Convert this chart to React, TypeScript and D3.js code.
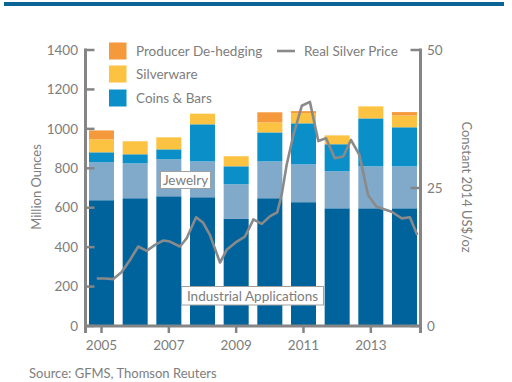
import React from "react";
import * as d3 from "d3";

const years = [2005, 2006, 2007, 2008, 2009, 2010, 2011, 2012, 2013, 2014];
const industrial = [638, 648, 658, 653, 543, 648, 628, 597, 597, 597];
const jewelry = [192, 177, 188, 182, 176, 187, 192, 188, 213, 213];
const coinsBars = [51, 46, 50, 188, 91, 147, 208, 137, 243, 198];
const silverware = [66, 66, 61, 54, 51, 51, 52, 45, 61, 60];
const dehedging = [45, 0, 0, 0, 0, 51, 10, 0, 0, 17];

const priceTime = [
  2004.86, 2005.1, 2005.35, 2005.6, 2005.85, 2006.09, 2006.34, 2006.59, 2006.84, 2007.03,
  2007.33, 2007.53, 2007.81, 2008.02, 2008.22, 2008.52, 2008.72, 2009.02, 2009.26, 2009.41,
  2009.51, 2009.76, 2010.01, 2010.22, 2010.35, 2010.5, 2010.7, 2010.95, 2011.19, 2011.44,
  2011.67, 2011.93, 2012.18, 2012.41, 2012.66, 2012.92, 2013.17, 2013.62, 2013.92, 2014.16,
  2014.38,
];
const priceValue = [
  8.6, 8.6, 8.5, 9.8, 12.0, 14.4, 13.6, 14.7, 15.5, 15.3,
  14.4, 15.9, 19.7, 18.7, 16.5, 11.5, 13.8, 15.3, 16.2, 18.0,
  19.3, 18.5, 19.9, 20.6, 23.7, 29.2, 34.6, 39.9, 40.6, 33.5,
  34.0, 30.4, 30.7, 33.7, 31.0, 23.7, 21.6, 20.7, 19.5, 19.7,
  16.5,
];

const leftTicks = [0, 200, 400, 600, 800, 1000, 1200, 1400];
const rightTicks = [0, 25, 50];
const yearTicks = [2005, 2007, 2009, 2011, 2013];

const seriesKeys = ["industrial", "jewelry", "coins", "silverware", "dehedging"];
const seriesColors: Record<string, string> = {
  industrial: "#00639b",
  jewelry: "#80a9ca",
  coins: "#0a8fc8",
  silverware: "#fcc242",
  dehedging: "#f5993d",
};

const FONT = "Lato, 'Open Sans', sans-serif";
const GRAY = "#7d7d7d";
const AXIS = "#858585";

export default function App() {
  const rows = years.map((y, i) => ({
    year: y,
    industrial: industrial[i],
    jewelry: jewelry[i],
    coins: coinsBars[i],
    silverware: silverware[i],
    dehedging: dehedging[i],
  }));
  const stacked = d3.stack<any>().keys(seriesKeys)(rows);

  const x = d3
    .scaleBand<number>()
    .domain(years)
    .range([89, 417])
    .paddingInner(0.257)
    .paddingOuter(0);
  const bw = x.bandwidth();
  const xc = (y: number) => (x(y) as number) + bw / 2;
  const xt = d3.scaleLinear().domain([2005, 2014]).range([xc(2005), xc(2014)]);
  const yL = d3.scaleLinear().domain([0, 1400]).range([326, 50]);
  const yR = d3.scaleLinear().domain([0, 50]).range([326, 50]);

  const line = d3
    .line<number>()
    .x((_, i) => xt(priceTime[i]))
    .y((d) => yR(d));

  const axL = 85.5;
  const axR = 420.5;

  return (
    <svg
      width={512}
      height={382}
      style={{ position: "absolute", left: 0, top: 0, background: "#fff" }}
      fontFamily={FONT}
    >
      <rect x={4} y={2} width={500} height={4} fill="#0b6496" />

      {stacked.map((s) => (
        <g key={s.key} fill={seriesColors[s.key]}>
          {s.map((d, i) =>
            d[1] - d[0] > 0 ? (
              <rect
                key={i}
                x={x(years[i])}
                width={bw}
                y={yL(d[1])}
                height={yL(d[0]) - yL(d[1])}
              />
            ) : null
          )}
        </g>
      ))}

      <path d={line(priceValue) || ""} fill="none" stroke="#8a8a8a" strokeWidth={2.6} strokeLinejoin="round" />

      {/* left axis */}
      <line x1={axL} x2={axL} y1={yL(1400) - 1.5} y2={333} stroke={AXIS} strokeWidth={3} />
      {leftTicks.map((t) => (
        <g key={t}>
          <line x1={axL} x2={axL + 9} y1={yL(t)} y2={yL(t)} stroke={AXIS} strokeWidth={2.5} />
          <text x={78} y={yL(t)} dy="0.35em" textAnchor="end" fontSize={13.5} fill={GRAY}>
            {t}
          </text>
        </g>
      ))}
      {/* bottom axis */}
      <line x1={axL} x2={axR} y1={326} y2={326} stroke={AXIS} strokeWidth={3} />
      {yearTicks.map((t) => (
        <g key={t}>
          <line x1={xc(t)} x2={xc(t)} y1={326} y2={333} stroke={AXIS} strokeWidth={2.5} />
          <text x={xc(t)} y={345} dy="0.35em" textAnchor="middle" fontSize={13.5} fill={GRAY}>
            {t}
          </text>
        </g>
      ))}
      {/* right axis */}
      <line x1={axR} x2={axR} y1={yR(50) - 1.5} y2={333} stroke={AXIS} strokeWidth={3} />
      {rightTicks.map((t) => (
        <g key={t}>
          <line x1={axR - 10} x2={axR} y1={yR(t)} y2={yR(t)} stroke={AXIS} strokeWidth={2.5} />
          <text x={427} y={yR(t)} dy="0.35em" textAnchor="start" fontSize={13.5} fill={GRAY}>
            {t}
          </text>
        </g>
      ))}

      <text
        transform={`translate(36,187) rotate(-90)`}
        textAnchor="middle"
        dy="0.35em"
        fontSize={13}
        fill={GRAY}
      >
        Million Ounces
      </text>
      <text
        transform={`translate(467,187) rotate(90)`}
        textAnchor="middle"
        dy="0.35em"
        fontSize={13}
        fill={GRAY}
      >
        Constant 2014 US$/oz
      </text>

      {/* legend */}
      <rect x={109} y={42.5} width={17.5} height={17} fill={seriesColors.dehedging} />
      <text x={136} y={51} dy="0.35em" fontSize={13.5} fill={GRAY}>Producer De-hedging</text>
      <rect x={109} y={65.5} width={17.5} height={17} fill={seriesColors.silverware} />
      <text x={136} y={74} dy="0.35em" fontSize={13.5} fill={GRAY}>Silverware</text>
      <rect x={109} y={89.5} width={17.5} height={17} fill={seriesColors.coins} />
      <text x={136} y={98} dy="0.35em" fontSize={13.5} fill={GRAY}>Coins &amp; Bars</text>
      <line x1={277} x2={295} y1={51} y2={51} stroke="#8a8a8a" strokeWidth={2.6} />
      <text x={304} y={51} dy="0.35em" fontSize={13.5} fill={GRAY}>Real Silver Price</text>

      {/* in-chart labels */}
      <rect x={160.5} y={171.5} width={50} height={17} fill="#fff" stroke="#a0a0a0" strokeWidth={1} />
      <text x={185.5} y={180} dy="0.35em" textAnchor="middle" fontSize={13.5} fill={GRAY}>Jewelry</text>
      <rect x={181.5} y={286.5} width={142} height={18.5} fill="#fff" stroke="#a0a0a0" strokeWidth={1} />
      <text x={252.5} y={296} dy="0.35em" textAnchor="middle" fontSize={13.5} fill={GRAY}>
        Industrial Applications
      </text>

      <text x={29} y={373} dy="0.35em" fontSize={13} fill={GRAY}>
        Source: GFMS, Thomson Reuters
      </text>
    </svg>
  );
}
